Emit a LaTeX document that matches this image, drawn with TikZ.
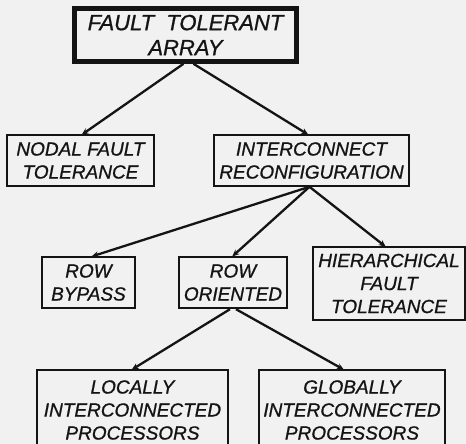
\documentclass[tikz,border=0pt]{standalone}
\usepackage{fontspec}
\setsansfont[FakeBold=0.9]{Liberation Sans}
\usetikzlibrary{arrows.meta,positioning}
\definecolor{ftaPaper}{HTML}{F1F1F1}
\definecolor{ftaInk}{HTML}{141414}
\tikzset{
  >={Stealth[length=7pt,width=6pt]},
  box/.style={draw=ftaInk, line width=1.6pt, fill=ftaPaper, align=center,
              inner sep=2pt, text=ftaInk,
              font=\fontsize{19}{23}\selectfont\sffamily\itshape},
  rootbox/.style={box, line width=4.6pt,
              font=\fontsize{22}{25}\selectfont\sffamily\itshape},
  link/.style={->, draw=ftaInk, line width=2.3pt, shorten >=-1pt},
}
\begin{document}
\begin{tikzpicture}[x=1pt,y=-1pt]
  \useasboundingbox[fill=ftaPaper] (0,0) rectangle (466,444);
  % top of the tree
  \node[rootbox,minimum width=222pt,minimum height=53pt] (fta) at (185.5,35){FAULT\ \ TOLERANT\\ARRAY};
  % second level
  \node[box,minimum width=147pt,minimum height=51pt] (nodal) at (80.5,160.5){NODAL FAULT\\TOLERANCE};
  \node[box,minimum width=195pt,minimum height=51pt] (intc) at (311.5,160.5){INTERCONNECT\\RECONFIGURATION};
  % third level
  \node[box,minimum width=93pt,minimum height=51pt] (bypass) at (88.5,282.5){ROW\\BYPASS};
  \node[box,line width=2.4pt,minimum width=108pt,minimum height=51pt] (roworient) at (233,282.5){ROW\\ORIENTED};
  \node[box,minimum width=152pt,minimum height=73pt] (hier) at (389,283.5){HIERARCHICAL\\FAULT\\TOLERANCE};
  % bottom row, runs off the page
  \node[box,minimum width=191pt,minimum height=80pt] (local) at (132.5,410){LOCALLY\\INTERCONNECTED\\PROCESSORS};
  \node[box,minimum width=186pt,minimum height=80pt] (global) at (352,410){GLOBALLY\\INTERCONNECTED\\PROCESSORS};
  % connectors
  \draw[link] ([xshift=-2pt]fta.south) -- ([xshift=2pt]nodal.north);
  \draw[link] ([xshift=8pt]fta.south) -- ([xshift=-4pt]intc.north);
  \draw[link] ([xshift=-2pt]intc.south) -- ([xshift=4pt]bypass.north);
  \draw[link] ([xshift=-2pt]intc.south) -- (roworient.north);
  \draw[link] ([xshift=-2pt]intc.south) -- ([xshift=-4pt]hier.north);
  \draw[link] ([xshift=-3pt]roworient.south) -- (local.north);
  \draw[link] ([xshift=3pt]roworient.south) -- ([xshift=-9pt]global.north);
\end{tikzpicture}
\end{document}
